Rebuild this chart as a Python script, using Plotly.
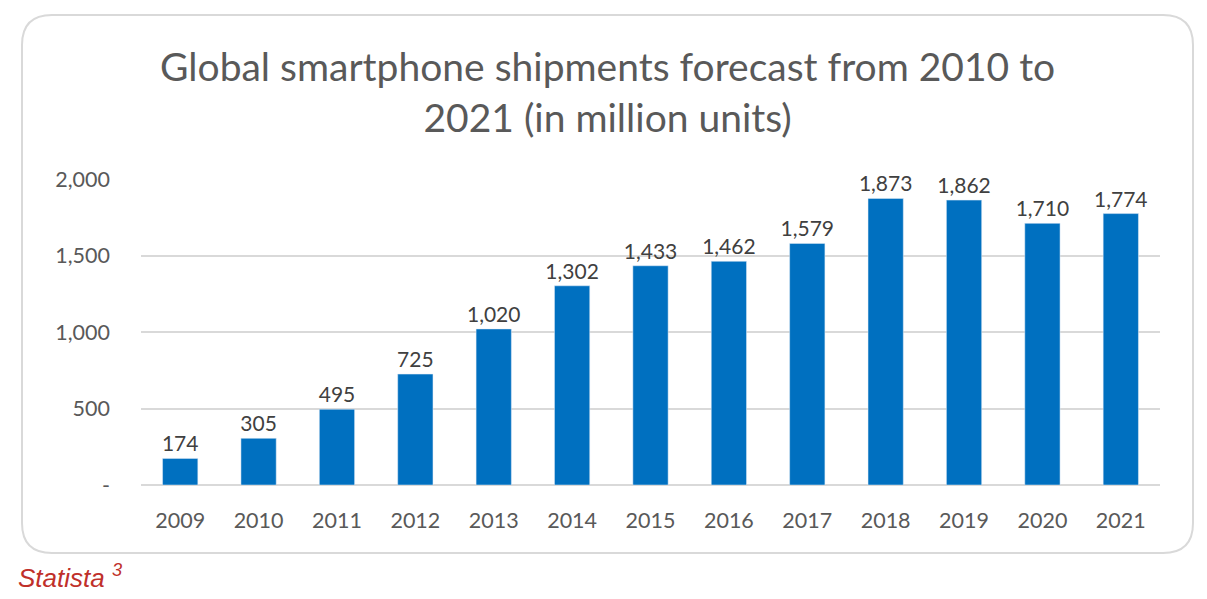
import plotly.graph_objects as go

# data
years = ["2009", "2010", "2011", "2012", "2013", "2014", "2015",
         "2016", "2017", "2018", "2019", "2020", "2021"]
shipments = [174, 305, 495, 725, 1020, 1302, 1433, 1462, 1579, 1873, 1862, 1710, 1774]
y_ticks = [0, 500, 1000, 1500, 2000]
y_tick_labels = ["-", "500", "1,000", "1,500", "2,000"]

# page body has an 8px margin, so the figure is drawn 8px in from the corner
OFF = 8
W, H = 1207 - OFF, 599 - OFF
L, R, T, B = 141 - OFF, 47, 179 - OFF, 114
pw, ph = W - L - R, H - T - B


def px_x(x):
    return (x - OFF - L) / pw


def px_y(y):
    return (H - B - (y - OFF)) / ph


# rounded frame around the chart, in paper coords
x0, x1, y0, y1, r = 22, 1193, 15, 553, 30
frame = (
    f"M {px_x(x0 + r)},{px_y(y0)} L {px_x(x1 - r)},{px_y(y0)} "
    f"Q {px_x(x1)},{px_y(y0)} {px_x(x1)},{px_y(y0 + r)} "
    f"L {px_x(x1)},{px_y(y1 - r)} "
    f"Q {px_x(x1)},{px_y(y1)} {px_x(x1 - r)},{px_y(y1)} "
    f"L {px_x(x0 + r)},{px_y(y1)} "
    f"Q {px_x(x0)},{px_y(y1)} {px_x(x0)},{px_y(y1 - r)} "
    f"L {px_x(x0)},{px_y(y0 + r)} "
    f"Q {px_x(x0)},{px_y(y0)} {px_x(x0 + r)},{px_y(y0)} Z"
)

fig = go.Figure(go.Bar(
    x=years,
    y=shipments,
    marker_color="#0070C0",
    text=[f"{v:,}" for v in shipments],
    textposition="outside",
    constraintext="none",
    textfont=dict(size=21, color="#404040"),
    cliponaxis=False,
))

fig.update_layout(
    width=W, height=H,
    margin=dict(l=L, r=R, t=T, b=B),
    paper_bgcolor="white",
    plot_bgcolor="white",
    font=dict(family="Lato, Open Sans, sans-serif", color="#595959"),
    bargap=0.55,
    showlegend=False,
    shapes=[dict(type="path", xref="paper", yref="paper", path=frame,
                 line=dict(color="#d9d9d9", width=2), layer="below")],
    annotations=[
        dict(text="Global smartphone shipments forecast from 2010 to<br>2021 (in million units)",
             xref="paper", yref="paper", x=px_x(607), y=px_y(92),
             xanchor="center", yanchor="middle", showarrow=False,
             font=dict(size=39, color="#595959")),
        dict(text="<i>Statista <sup>3</sup></i>",
             xref="paper", yref="paper", x=px_x(16), y=px_y(576),
             xanchor="left", yanchor="middle", showarrow=False,
             font=dict(family="Liberation Sans, Arial", size=26, color="#c0302a")),
    ],
)

fig.update_xaxes(showgrid=False, showline=False, ticks="",
                 tickfont=dict(size=21.5, color="#595959"), ticklabelstandoff=20)
fig.update_yaxes(range=[0, 2000], tickvals=y_ticks, ticktext=y_tick_labels,
                 showgrid=True, gridcolor="#d9d9d9", gridwidth=2,
                 zeroline=True, zerolinecolor="#d9d9d9", zerolinewidth=2,
                 tickfont=dict(size=21.5, color="#595959"), ticklabelstandoff=30)

fig.write_html("out.html")
